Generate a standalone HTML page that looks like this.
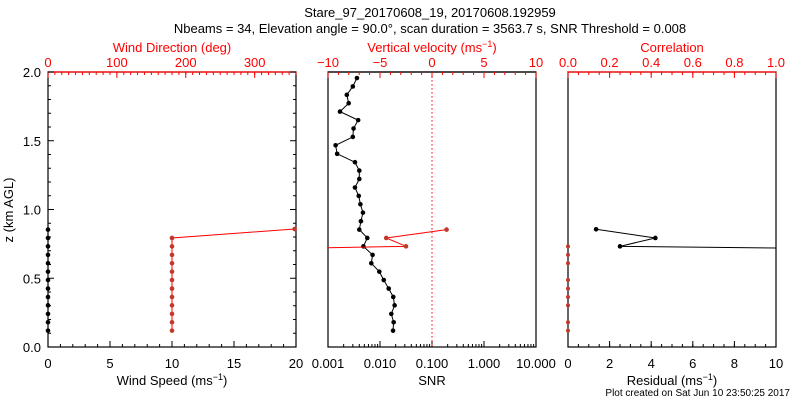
<!DOCTYPE html>
<html><head><meta charset="utf-8">
<style>
body{margin:0;background:#fff;}
svg{display:block;font-family:"Liberation Sans",sans-serif;}
</style></head>
<body>
<svg id="chart" width="800" height="400" viewBox="0 0 800 400">
<text x="430" y="17" font-size="13" text-anchor="middle">Stare_97_20170608_19, 20170608.192959</text>
<text x="430" y="33" font-size="13" text-anchor="middle">Nbeams = 34, Elevation angle = 90.0°, scan duration = 3563.7 s, SNR Threshold = 0.008</text>
<text x="790" y="396" font-size="10" text-anchor="end">Plot created on Sat Jun 10 23:50:25 2017</text>
<g id="g"></g>
</svg>
<script>
// heights (km)
const heights = [0.119,0.180,0.241,0.303,0.364,0.425,0.487,0.548,0.609,0.670,0.732,0.793,0.854,0.915,0.977,1.038,1.099,1.160,1.222,1.283,1.344,1.405,1.467,1.528,1.589,1.650,1.712,1.773,1.834,1.895,1.956];
const snrValues = [0.0178,0.0183,0.0165,0.0191,0.018,0.0147,0.0118,0.0097,0.0068,0.0072,0.0048,0.0057,0.0040,0.0043,0.0047,0.0042,0.0039,0.0033,0.0040,0.0040,0.0033,0.0015,0.0014,0.0030,0.0031,0.0038,0.0017,0.0025,0.0023,0.0030,0.0036];
const windSpeedHeights = [0.119,0.180,0.241,0.303,0.364,0.425,0.487,0.548,0.609,0.670,0.732,0.793,0.854];
const windSpeed = [0,0,0,0,0,0,0,0,0,0,0,0,0];
const windDirHeights = [0.119,0.180,0.241,0.303,0.364,0.425,0.487,0.548,0.609,0.670,0.732,0.793,0.858];
const windDir = [180,180,180,180,180,180,180,180,180,180,180,180,358];
const wHeights = [0.670,0.732,0.793,0.854];
const wValues = [-50,-2.5,-4.4,1.4];
const resHeights = [0.670,0.732,0.793,0.856];
const resValues = [42,2.5,4.2,1.35];
const corrHeights = [0.119,0.180,0.303,0.364,0.425,0.487,0.609,0.670,0.732];
const corrValues = [0,0,0,0,0,0,0,0,0];

const NS="http://www.w3.org/2000/svg";
const G=document.getElementById('g');
function mk(tag,attrs,parent){const e=document.createElementNS(NS,tag);for(const k in attrs)e.setAttribute(k,attrs[k]);(parent||G).appendChild(e);return e;}
const Y0=347,Y1=72;
function yz(z){return Y0-(z/2)*(Y0-Y1);}
function lin(a,b,x0,x1){return v=>x0+(v-a)/(b-a)*(x1-x0);}
function logs(a,b,x0,x1){return v=>x0+(Math.log10(v)-Math.log10(a))/(Math.log10(b)-Math.log10(a))*(x1-x0);}
function txt(x,y,s,opt,name){const t=mk('text',Object.assign({x:x,y:y,'font-size':13,'text-anchor':'middle'},opt||{}));t.textContent=s;return t;}
function clip(id,x0,x1){const c=mk('clipPath',{id:id});mk('rect',{x:x0,y:Y1,width:x1-x0,height:Y0-Y1},c);}

function frame(x0,x1,topCol,name){
  const r=mk('rect',{x:x0,y:Y1,width:x1-x0,height:Y0-Y1,fill:'none',stroke:'#000','stroke-width':1.2});
  
  const l=mk('line',{x1:x0,x2:x1,y1:Y1,y2:Y1,stroke:topCol,'stroke-width':1.2});
  
}
function ticksX(sc,vals,y,dir,len,col){vals.forEach(v=>{const x=sc(v);const t=mk('line',{x1:x,x2:x,y1:y,y2:y+dir*len,stroke:col,'stroke-width':1});});}
function range(a,b,s){const r=[];for(let v=a;v<=b+1e-9;v+=s)r.push(+v.toFixed(6));return r;}
function series(sc,hs,vs,col,dot,name,cp){
  const g=mk('g',{'clip-path':'url(#'+cp+')'});
  
  const pts=vs.map((v,i)=>[sc(v),yz(hs[i])]);
  mk('polyline',{points:pts.map(p=>p.join(',')).join(' '),fill:'none',stroke:col,'stroke-width':1},g);
  pts.forEach(p=>{const c=mk('circle',{cx:p[0],cy:p[1],r:2.3,fill:dot},g);});
}

// Panel 1
const p1x0=48,p1x1=296;
clip('c1',p1x0-3,p1x1+1);
const ws=lin(0,20,p1x0,p1x1), wd=lin(0,360,p1x0,p1x1);
frame(p1x0,p1x1,'#f00','wind-panel');
ticksX(ws,range(0,20,1),Y0,-1,3,'#000');ticksX(ws,range(0,20,5),Y0,-1,6,'#000');
ticksX(wd,range(0,360,10),Y1,1,3,'#f00');ticksX(wd,range(0,300,100),Y1,1,6,'#f00');
range(0,2,0.1).forEach(z=>{const maj=Math.abs(z*2-Math.round(z*2))<1e-6;const L=maj?6:3;
  mk('line',{x1:p1x0,x2:p1x0+L,y1:yz(z),y2:yz(z),stroke:'#000'});mk('line',{x1:p1x1,x2:p1x1-L,y1:yz(z),y2:yz(z),stroke:'#000'});});
[0,0.5,1,1.5,2].forEach(z=>txt(41,yz(z)+5,z.toFixed(1),{'text-anchor':'end'},'y-tick-label'));
[0,5,10,15,20].forEach(v=>txt(ws(v),368,String(v),{},'x-tick-label'));
[0,100,200,300].forEach(v=>txt(wd(v),67,String(v),{fill:'#f00'},'wind-dir-tick-label'));
txt(172,385,'',{},'x-axis-title').innerHTML='Wind Speed (ms<tspan dy="-5" font-size="9">−1</tspan><tspan dy="5">)</tspan>';
txt(172,52,'Wind Direction (deg)',{fill:'#f00'},'wind-dir-axis-title');
txt(0,0,'z (km AGL)',{transform:'translate(13,210) rotate(-90)'},'y-axis-title');
series(wd,windDirHeights,windDir,'#f00','#c0392b','wind-direction-series','c1');
series(ws,windSpeedHeights,windSpeed,'#000','#000','wind-speed-series','c1');

// Panel 2
const p2x0=328,p2x1=536;
clip('c2',p2x0,p2x1);
const sn=logs(0.001,10,p2x0,p2x1), vv=lin(-10,10,p2x0,p2x1);
frame(p2x0,p2x1,'#000','snr-panel');
for(let d=-3;d<1;d++){for(let m=1;m<10;m++){const v=m*Math.pow(10,d);mk('line',{x1:sn(v),x2:sn(v),y1:Y0,y2:Y0-(m==1?6:3),stroke:'#000'});}}
ticksX(vv,range(-10,10,1),Y1,1,3,'#f00');ticksX(vv,range(-10,10,5),Y1,1,6,'#f00');
['0.001','0.010','0.100','1.000','10.000'].forEach(s=>txt(sn(+s),368,s,{},'snr-tick-label'));
['−10','−5','0','5','10'].forEach((s,i)=>txt(vv(-10+5*i),67,s,{fill:'#f00'},'w-tick-label'));
txt(432,385,'SNR',{},'snr-axis-title');
txt(432,52,'',{fill:'#f00'},'w-axis-title').innerHTML='Vertical velocity (ms<tspan dy="-5" font-size="9">−1</tspan><tspan dy="5">)</tspan>';
mk('line',{x1:vv(0),x2:vv(0),y1:Y1,y2:Y0,stroke:'#f00','stroke-dasharray':'1.5,2.5'});
series(sn,heights,snrValues,'#000','#000','snr-series','c2');
series(vv,wHeights,wValues,'#f00','#c0392b','vertical-velocity-series','c2');

// Panel 3
const p3x0=568,p3x1=776;
clip('c3',p3x0-3,p3x1);
const rs=lin(0,10,p3x0,p3x1), cr=lin(0,1,p3x0,p3x1);
frame(p3x0,p3x1,'#f00','residual-panel');
ticksX(rs,range(0,10,0.5),Y0,-1,3,'#000');ticksX(rs,range(0,10,2),Y0,-1,6,'#000');
ticksX(cr,range(0,1,0.05),Y1,1,3,'#f00');ticksX(cr,range(0,1,0.2),Y1,1,6,'#f00');
[0,2,4,6,8,10].forEach(v=>txt(rs(v),368,String(v),{},'residual-tick-label'));
['0.0','0.2','0.4','0.6','0.8','1.0'].forEach(s=>txt(cr(+s),67,s,{fill:'#f00'},'corr-tick-label'));
txt(672,385,'',{},'residual-axis-title').innerHTML='Residual (ms<tspan dy="-5" font-size="9">−1</tspan><tspan dy="5">)</tspan>';
txt(672,52,'Correlation',{fill:'#f00'},'corr-axis-title');
series(rs,resHeights,resValues,'#000','#000','residual-series','c3');
const cg=mk('g',{'clip-path':'url(#c3)'});


corrValues.forEach((v,i)=>{const c=mk('circle',{cx:cr(v),cy:yz(corrHeights[i]),r:2,fill:'#c0392b'},cg);});
</script>
</body></html>
